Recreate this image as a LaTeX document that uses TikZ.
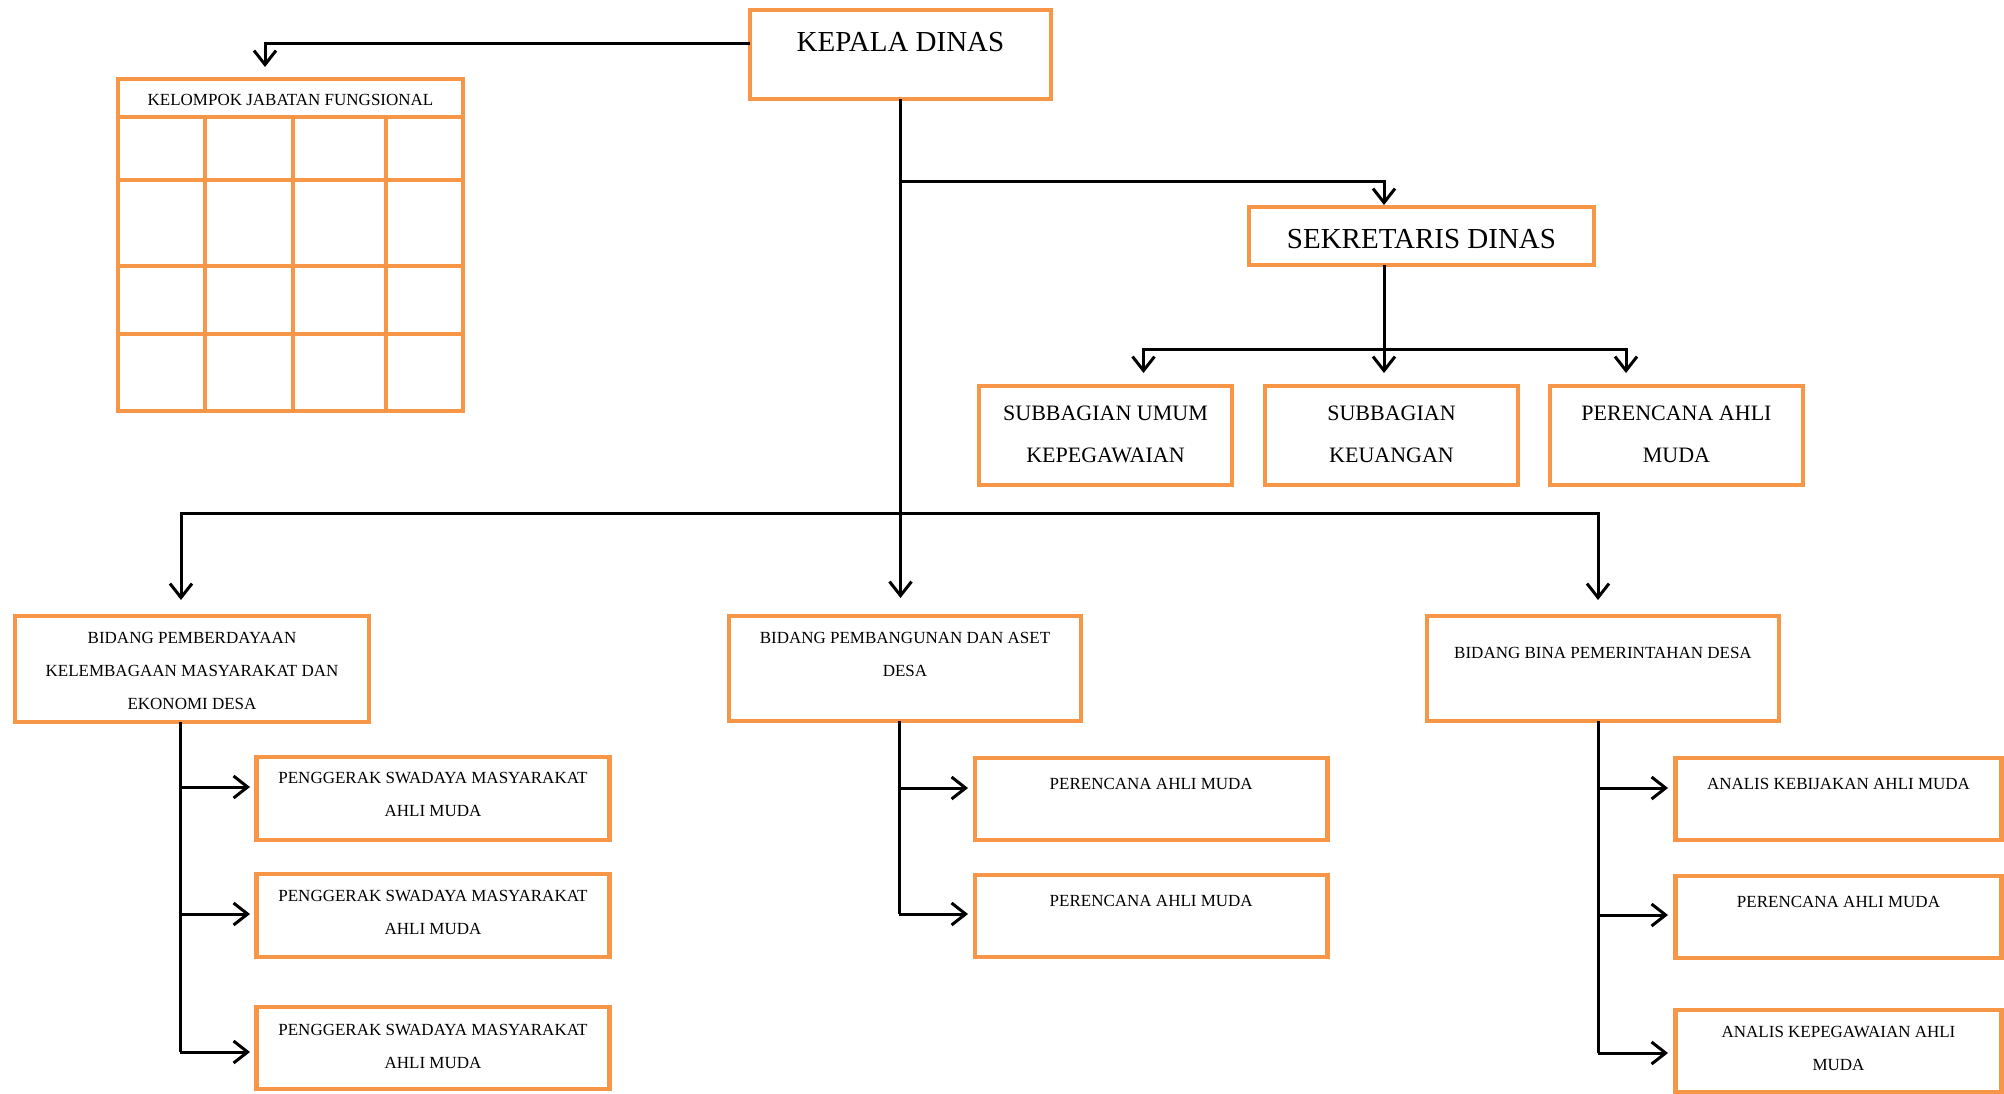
\documentclass[tikz,border=0pt]{standalone}
\usepackage{fontspec}
\setmainfont{Liberation Serif}
\usepackage{tikz}
\usetikzlibrary{arrows.meta,positioning,calc}
\definecolor{dinasorange}{HTML}{F79646}
\definecolor{dinasdark}{HTML}{000000}
\tikzset{
  box/.style={draw=dinasorange,line width=4.5pt,inner sep=0pt,outer sep=0pt,align=center,anchor=north west,text=dinasdark},
  headbox/.style={box,font=\fontsize{29}{40}\selectfont},
  subbox/.style={box,font=\fontsize{22}{42}\selectfont,minimum width=253pt,text height=76.3pt,text depth=22.7pt},
  bidbox/.style={box,font=\fontsize{17}{33}\selectfont,minimum width=352pt},
  unitbox/.style={box,font=\fontsize{17}{33}\selectfont},
  tablebox/.style={box,line width=3.5pt,font=\fontsize{17}{33}\selectfont},
  grid/.style={draw=dinasorange,line width=3.5pt},
  ln/.style={draw=dinasdark,line width=3pt},
  ar/.style={ln,-{Straight Barb[length=14pt,width=22pt]}},
}
\begin{document}
\begin{tikzpicture}[x=1pt,y=-1pt]
  \useasboundingbox (0,0) rectangle (2004,1093);
  % pimpinan
  \node[headbox,minimum width=301pt,text height=41.6pt,text depth=47.4pt] (kepala) at (750,10) {KEPALA DINAS};
  \node[tablebox,minimum width=345pt,text height=26.6pt,text depth=305.4pt] (kelompok) at (118,79) {KELOMPOK JABATAN FUNGSIONAL};
  \foreach \dy in {38,101,187,255}
    \draw[grid] ([yshift=-\dy pt]kelompok.north west) -- ([yshift=-\dy pt]kelompok.north east);
  \foreach \dx in {87,175,268}
    \draw[grid] ([xshift=\dx pt,yshift=-38pt]kelompok.north west) -- ([xshift=\dx pt]kelompok.south west);
  \node[headbox,minimum width=345pt,text height=41.6pt,text depth=16.4pt] (sekretaris) at (1249,207) {SEKRETARIS DINAS};

  % subbagian
  \node[subbox] (subumum) at (979,386) {SUBBAGIAN UMUM\\KEPEGAWAIAN};
  \node[subbox,right=33pt of subumum] (subkeu) {SUBBAGIAN\\KEUANGAN};
  \node[subbox,right=32pt of subkeu] (perencana) {PERENCANA AHLI\\MUDA};

  % bidang
  \node[bidbox,minimum width=354pt,text height=93.15pt,text depth=12.85pt] (bid1) at (15,616) {BIDANG PEMBERDAYAAN\\KELEMBAGAAN MASYARAKAT DAN\\EKONOMI DESA};
  \node[bidbox,text height=60.65pt,text depth=44.35pt] (bid2) at (729,616) {BIDANG PEMBANGUNAN DAN ASET\\DESA};
  \node[bidbox,text height=42.65pt,text depth=62.35pt] (bid3) at (1427,616) {BIDANG BINA PEMERINTAHAN DESA};

  % jabatan fungsional per bidang
  \node[unitbox,minimum width=353pt,text height=59.65pt,text depth=23.35pt] (b1c1) at (256.5,757) {PENGGERAK SWADAYA MASYARAKAT\\AHLI MUDA};
  \node[unitbox,minimum width=353pt,text height=60.15pt,text depth=22.85pt] (b1c2) at (256.5,874) {PENGGERAK SWADAYA MASYARAKAT\\AHLI MUDA};
  \node[unitbox,minimum width=353pt,text height=61.65pt,text depth=20.35pt] (b1c3) at (256.5,1007) {PENGGERAK SWADAYA MASYARAKAT\\AHLI MUDA};
  \node[unitbox,minimum width=352.5pt,text height=31.65pt,text depth=50.35pt] (b2c1) at (975,758) {PERENCANA AHLI MUDA};
  \node[unitbox,minimum width=352.5pt,text height=31.65pt,text depth=50.35pt] (b2c2) at (975,875) {PERENCANA AHLI MUDA};
  \node[unitbox,minimum width=326pt,text height=31.65pt,text depth=50.35pt] (b3c1) at (1675.5,758) {ANALIS KEBIJAKAN AHLI MUDA};
  \node[unitbox,minimum width=326pt,text height=31.65pt,text depth=50.35pt] (b3c2) at (1675.5,876) {PERENCANA AHLI MUDA};
  \node[unitbox,minimum width=326pt,text height=60.65pt,text depth=22pt] (b3c3) at (1675.5,1010) {ANALIS KEPEGAWAIAN AHLI\\MUDA};

  % garis komando
  \coordinate (jsek) at ([yshift=-82pt]kepala.south);
  \coordinate (jmain) at ([yshift=-414pt]kepala.south);
  \draw[ar,shorten >=18pt] (kepala.south) -- (kepala.south |- bid2.north);
  \draw[ar] ([yshift=11.5pt]kepala.west) -| ([xshift=-25.5pt,yshift=12pt]kelompok.north);
  \draw[ar,shorten >=2pt] (jsek) -| ([xshift=-37.5pt]sekretaris.north);
  \coordinate (jsub) at ([xshift=-37.5pt,yshift=-84pt]sekretaris.south);
  \draw[ln] ([xshift=-37.5pt]sekretaris.south) -- (jsub);
  \draw[ar,shorten >=13pt] (jsub) -| ([xshift=38pt]subumum.north);
  \draw[ar,shorten >=13pt] (jsub) -- (jsub |- subkeu.north);
  \draw[ar,shorten >=13pt] (jsub) -| ([xshift=-50.5pt]perencana.north);
  \draw[ar,shorten >=16pt] (jmain) -| ([xshift=-11pt]bid1.north);
  \draw[ar,shorten >=16pt] (jmain) -| ([xshift=-5pt]bid3.north);

  \coordinate (p1) at ([xshift=-12pt]bid1.south);
  \coordinate (p2) at ([xshift=-6pt]bid2.south);
  \coordinate (p3) at ([xshift=-5pt]bid3.south);
  \draw[ln] (p1) -- ++(0,330);
  \draw[ln] (p2) -- ++(0,193);
  \draw[ln] (p3) -- ++(0,332);
  \foreach \n/\p/\dy/\gap in {b1c1/p1/65/6.5,b1c2/p1/192/6.5,b1c3/p1/330/6.5,
                              b2c1/p2/67/7,b2c2/p2/193/7,
                              b3c1/p3/67/7.5,b3c2/p3/194/7.5,b3c3/p3/332/7.5}{
    \coordinate (q) at ($(\p)+(0,\dy)$);
    \draw[ar,shorten >=\gap pt] (q) -- (q -| \n.west);
  }
\end{tikzpicture}
\end{document}
